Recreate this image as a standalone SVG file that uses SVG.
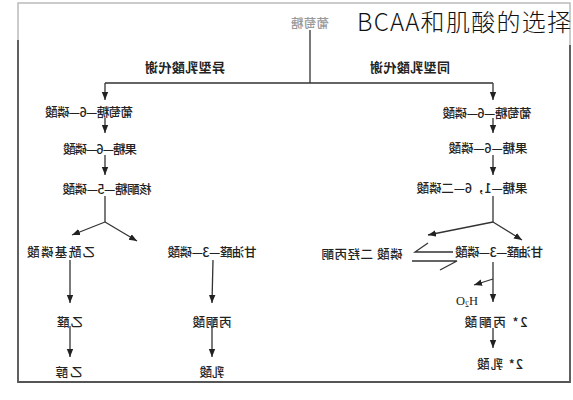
<svg xmlns="http://www.w3.org/2000/svg" width="573" height="400" viewBox="0 0 573 400">
<style>
.lbl{font-family:"Noto Sans CJK SC","Noto Sans",sans-serif;font-size:12.5px;font-weight:500;fill:#222;text-anchor:middle}
.hdr{font-size:13px;font-weight:bold}
.top{fill:#999}
.ln{fill:none;stroke:#333;stroke-width:1.3}
.arr{marker-end:url(#ah)}
</style>
<defs>
<marker id="ah" viewBox="0 0 10 10" refX="10" refY="5" markerWidth="8" markerHeight="8" markerUnits="userSpaceOnUse" orient="auto"><path d="M0,1 L10,5 L0,9 z" fill="#222"/></marker>
</defs>
<rect width="573" height="400" fill="#fff"/>
<g id="frame">
<rect x="18" y="3" width="552" height="379" fill="none" stroke="#bbb" stroke-width="1.5"/>
<path d="M18,40 V382 H570 V45" fill="none" stroke="#555" stroke-width="1.8"/>
</g>
<text x="357" y="31" font-family="'Noto Sans CJK SC','Noto Sans',sans-serif" font-size="24" font-weight="300" fill="#111" textLength="214">BCAA和肌酸的选择</text>
<g id="connectors">
<path class="ln" d="M310,30 V83 M105,83 H493"/>
<path class="ln arr" d="M105,83 V100"/>
<path class="ln arr" d="M493,83 V100"/>
<path class="ln arr" d="M105,118 V133"/>
<path class="ln arr" d="M105,155 V175"/>
<path class="ln" d="M105,196 V222"/>
<path class="ln arr" d="M105,222 L72,235"/>
<path class="ln arr" d="M105,222 L137,241"/>
<path class="ln arr" d="M70,260 V303"/>
<path class="ln arr" d="M70,326 V357"/>
<path class="ln arr" d="M213,260 L212,303"/>
<path class="ln arr" d="M212,326 V357"/>
<path class="ln arr" d="M493,118 V133"/>
<path class="ln arr" d="M493,155 V175"/>
<path class="ln" d="M493,196 V222"/>
<path class="ln arr" d="M493,222 L428,235"/>
<path class="ln arr" d="M493,222 L522,240"/>
<path class="ln" d="M453,252 H415 L428,243"/>
<path class="ln" d="M412,261 H457 L440,270"/>
<path class="ln arr" d="M493,262 V302"/>
<path class="ln arr" d="M493,279 L474,285"/>
<path class="ln arr" d="M493,328 V348"/>
</g>
<g id="n-glucose"><text class="lbl top" transform="translate(310,28) scale(-1,1)" textLength="38">葡萄糖</text></g>
<g id="n-hetero"><text class="lbl hdr" transform="translate(185,72) scale(-1,1)" textLength="80">异型乳酸代谢</text></g>
<g id="n-homo"><text class="lbl hdr" transform="translate(410,72) scale(-1,1)" textLength="80">同型乳酸代谢</text></g>
<g id="n-l-g6p"><text class="lbl" transform="translate(89,117) scale(-1,1)" textLength="88">葡萄糖—6—磷酸</text></g>
<g id="n-l-f6p"><text class="lbl" transform="translate(100,154) scale(-1,1)" textLength="74">果糖—6—磷酸</text></g>
<g id="n-r5p"><text class="lbl" transform="translate(107,194) scale(-1,1)" textLength="89">核酮糖—5—磷酸</text></g>
<g id="n-acp"><text class="lbl" transform="translate(61,257) scale(-1,1)" textLength="68">乙酰基磷酸</text></g>
<g id="n-m-gap"><text class="lbl" transform="translate(212,257) scale(-1,1)" textLength="89">甘油醛—3—磷酸</text></g>
<g id="n-acetald"><text class="lbl" transform="translate(70,327) scale(-1,1)" textLength="26">乙醛</text></g>
<g id="n-m-pyr"><text class="lbl" transform="translate(212,327) scale(-1,1)" textLength="39">丙酮酸</text></g>
<g id="n-ethanol"><text class="lbl" transform="translate(69,377) scale(-1,1)" textLength="27">乙醇</text></g>
<g id="n-m-lac"><text class="lbl" transform="translate(212,377) scale(-1,1)" textLength="25">乳酸</text></g>
<g id="n-r-g6p"><text class="lbl" transform="translate(487,118) scale(-1,1)" textLength="89">葡萄糖—6—磷酸</text></g>
<g id="n-r-f6p"><text class="lbl" transform="translate(488,153) scale(-1,1)" textLength="79">果糖—6—磷酸</text></g>
<g id="n-fbp"><text class="lbl" transform="translate(472,193) scale(-1,1)" textLength="111">果糖—1，6—二磷酸</text></g>
<g id="n-r-gap"><text class="lbl" transform="translate(499,257) scale(-1,1)" textLength="88">甘油醛—3—磷酸</text></g>
<g id="n-dhap"><text class="lbl" transform="translate(362,259) scale(-1,1)" textLength="81">磷酸 二羟丙酮</text></g>
<g id="n-h2o"><text class="lbl" transform="translate(467,305) scale(-1,1)" style="font-family:'Liberation Serif',serif">H<tspan font-size="8" dy="2">2</tspan><tspan dy="-2">O</tspan></text></g>
<g id="n-r-pyr"><text class="lbl" transform="translate(496,327) scale(-1,1)" textLength="63">2* 丙酮酸</text></g>
<g id="n-r-lac"><text class="lbl" transform="translate(500,369) scale(-1,1)" textLength="46">2* 乳酸</text></g>
</svg>
